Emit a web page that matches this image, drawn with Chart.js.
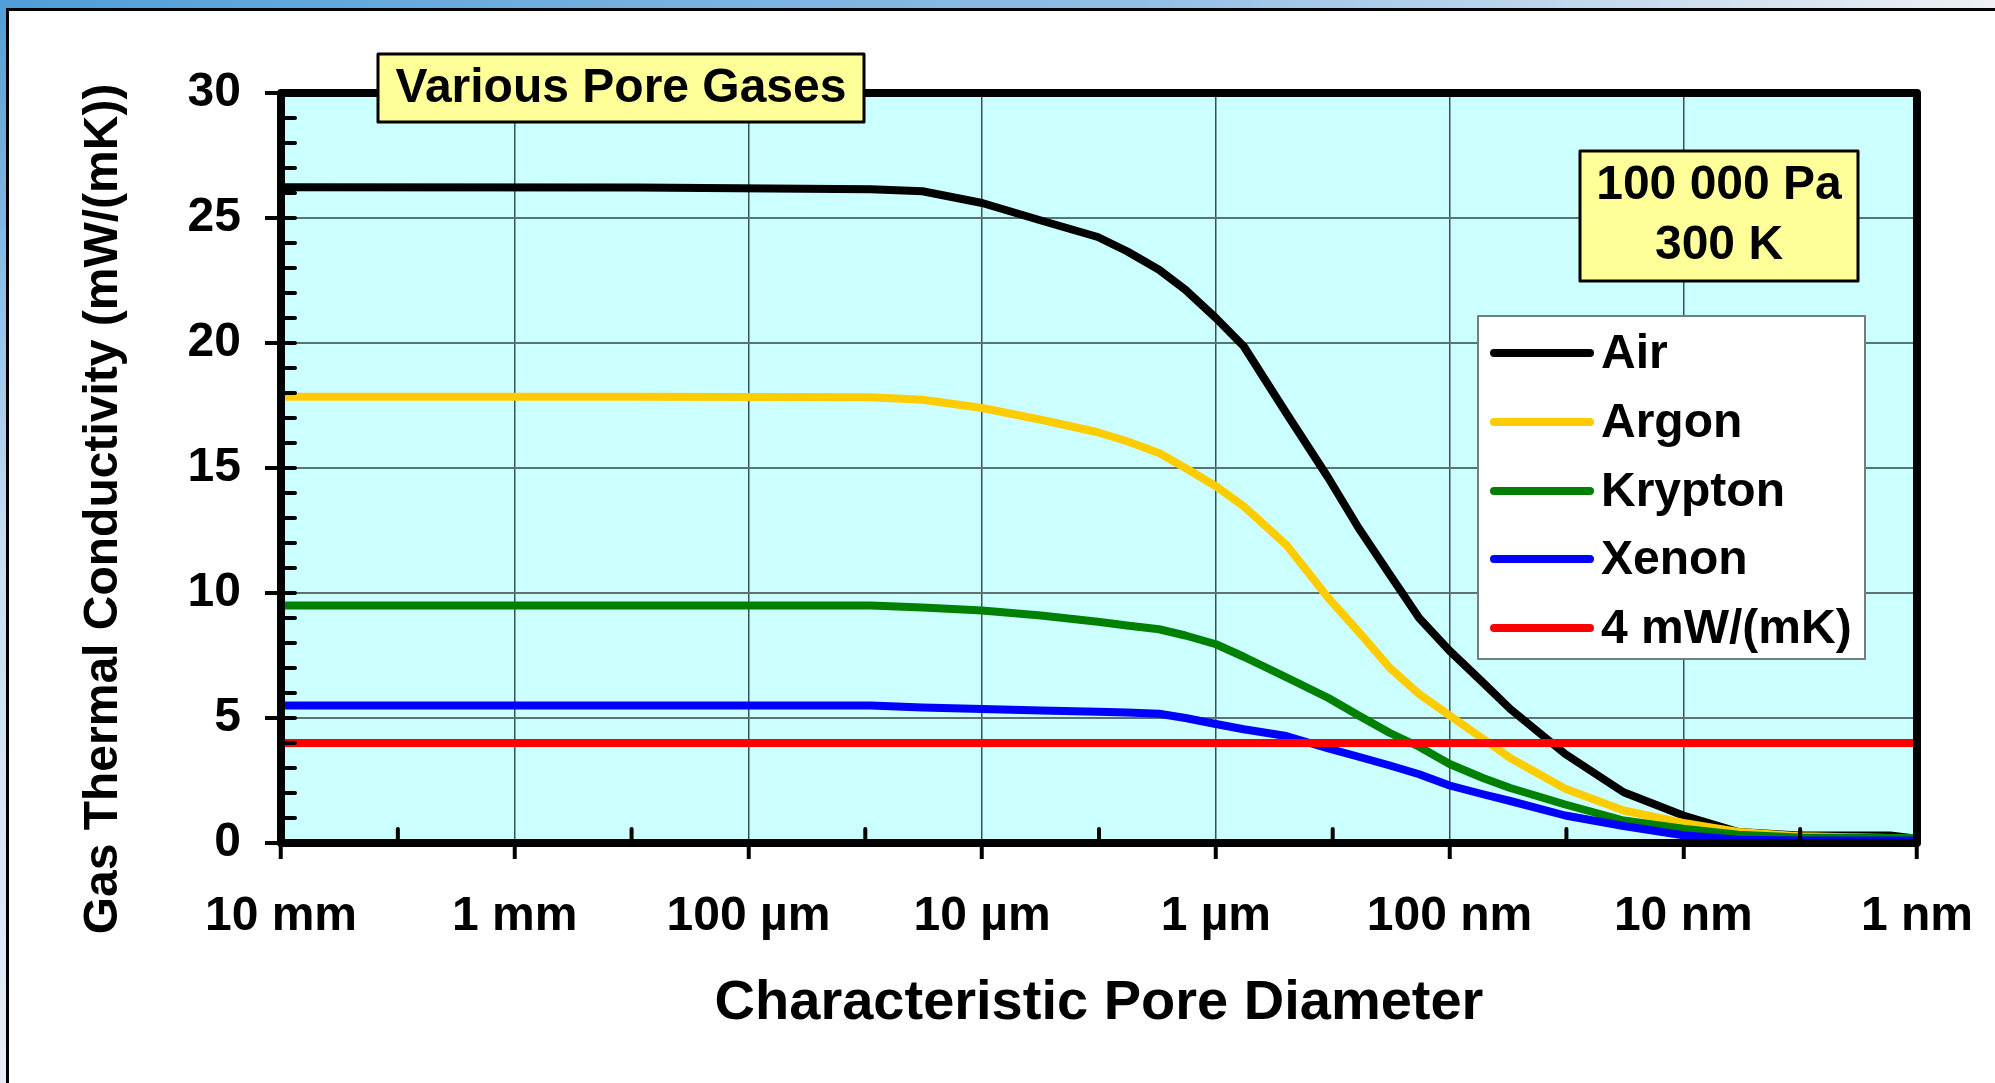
<!DOCTYPE html>
<html>
<head>
<title>Various Pore Gases</title>
<script src="https://cdn.jsdelivr.net/npm/chart.js"></script>
<style>
body { margin: 0; background: #fff; }
.wrap { position: relative; width: 1995px; height: 1083px; overflow: hidden; }
.topbar { position: absolute; left: 0; top: 0; width: 1995px; height: 8px;
  background: linear-gradient(to right, #4f9fd8, #8fbde6 55%, #eef0f5); }
.leftbar { position: absolute; left: 0; top: 0; width: 6px; height: 1083px;
  background: linear-gradient(to bottom, #4f9fd8, #c9dcf1 50%, #e6edf8); }
.panel { position: absolute; left: 6px; top: 8px; right: 0; bottom: 0;
  border-left: 3px solid #000; border-top: 3px solid #000; background: #fff; }
canvas { position: absolute; left: 0; top: 0; }
</style>
</head>
<body>
<div class="wrap">
  <div class="topbar"></div>
  <div class="leftbar"></div>
  <div class="panel"></div>
  <canvas id="myChart" width="1995" height="1083"></canvas>
</div>
<script>
// tick labels of the pore diameter axis (metres)
const sizeTicks = [1e-2, 1e-3, 1e-4, 1e-5, 1e-6, 1e-7, 1e-8, 1e-9];
const sizeLabels = ['10 mm', '1 mm', '100 µm', '10 µm', '1 µm', '100 nm', '10 nm', '1 nm'];

// pore diameters (m) where the curves were read
const diameters = [1e-2, 3e-4, 3e-5, 1.8e-5, 1e-5, 5.6e-6, 3.2e-6, 2.4e-6, 1.75e-6, 1.35e-6,
  1e-6, 7.6e-7, 5e-7, 3.3e-7, 2.45e-7, 1.8e-7, 1.35e-7, 1e-7, 7.2e-8, 5.5e-8,
  3.2e-8, 1.8e-8, 1e-8, 5.8e-9, 3.2e-9, 1.3e-9, 1e-9];

// gas thermal conductivity, mW/(mK)
const air = [26.23, 26.22, 26.15, 26.07, 25.6, 24.9, 24.24, 23.67, 22.93, 22.13,
  21.0, 19.87, 17.2, 14.6, 12.6, 10.73, 9.0, 7.69, 6.42, 5.36,
  3.56, 2.03, 1.1, 0.44, 0.3, 0.3, 0.17];
const argon = [17.85, 17.85, 17.83, 17.73, 17.4, 16.93, 16.43, 16.07, 15.6, 15.0,
  14.27, 13.47, 11.93, 9.8, 8.45, 7.0, 5.96, 5.1, 4.17, 3.4,
  2.17, 1.3, 0.8, 0.44, 0.27, 0.2, 0.17];
const krypton = [9.5, 9.5, 9.5, 9.42, 9.3, 9.1, 8.85, 8.7, 8.55, 8.3,
  7.95, 7.45, 6.63, 5.8, 5.1, 4.4, 3.85, 3.16, 2.6, 2.2,
  1.54, 0.9, 0.57, 0.33, 0.22, 0.2, 0.2];
const xenon = [5.5, 5.5, 5.5, 5.42, 5.36, 5.3, 5.25, 5.22, 5.17, 5.0,
  4.76, 4.55, 4.28, 3.78, 3.45, 3.1, 2.75, 2.3, 1.95, 1.68,
  1.1, 0.68, 0.31, 0.13, 0.1, 0.1, 0.1];

// reference level
const limitDiameters = [1e-2, 1e-9];
const limit = [4, 4];

const FONT = 'Liberation Sans, Arial, sans-serif';

function pts(xs, ys) {
  return xs.map((d, i) => ({ x: d, y: ys[i] }));
}

function sizeLabel(v) {
  const i = sizeTicks.findIndex(t => Math.abs(Math.log10(t) - Math.log10(v)) < 0.01);
  return i >= 0 ? sizeLabels[i] : '';
}

// background, frame, minor ticks, boxes, legend, y title
const decor = {
  id: 'decor',
  beforeDraw(chart) {
    const { ctx, chartArea: a } = chart;
    ctx.save();
    ctx.fillStyle = '#CCFFFF';
    ctx.fillRect(a.left, a.top, a.right - a.left, a.bottom - a.top);
    ctx.restore();
  },
  afterDraw(chart) {
    const { ctx, chartArea: a, scales: { x, y } } = chart;
    ctx.save();

    // plot frame
    ctx.strokeStyle = '#000';
    ctx.lineWidth = 8;
    ctx.lineJoin = 'round';
    ctx.strokeRect(a.left, a.top, a.right - a.left, a.bottom - a.top);

    // minor ticks, pointing inside
    ctx.lineWidth = 4;
    ctx.lineCap = 'round';
    for (let k = 0; k < 7; k++) {
      const px = x.getPixelForValue(Math.pow(10, -2.5 - k));
      ctx.beginPath();
      ctx.moveTo(px, a.bottom);
      ctx.lineTo(px, a.bottom - 14);
      ctx.stroke();
    }
    for (let v = 1; v < 30; v++) {
      const py = y.getPixelForValue(v);
      ctx.beginPath();
      ctx.moveTo(a.left, py);
      ctx.lineTo(a.left + 14, py);
      ctx.stroke();
    }

    // text boxes
    ctx.font = 'bold 48px ' + FONT;
    ctx.textAlign = 'center';
    ctx.textBaseline = 'middle';
    ctx.lineWidth = 3;
    ctx.fillStyle = '#FFFF99';
    ctx.fillRect(378, 54, 486, 68);
    ctx.strokeRect(378, 54, 486, 68);
    ctx.fillStyle = '#000';
    ctx.fillText('Various Pore Gases', 621, 89);

    ctx.fillStyle = '#FFFF99';
    ctx.fillRect(1580, 151, 278, 130);
    ctx.strokeRect(1580, 151, 278, 130);
    ctx.fillStyle = '#000';
    ctx.fillText('100 000 Pa', 1719, 186);
    ctx.fillText('300 K', 1719, 246);

    // legend
    ctx.fillStyle = '#fff';
    ctx.fillRect(1478, 316, 387, 343);
    ctx.strokeStyle = '#6f7f7f';
    ctx.lineWidth = 2;
    ctx.strokeRect(1478, 316, 387, 343);
    const rows = [353, 422, 491, 559, 628];
    ctx.textAlign = 'left';
    chart.data.datasets.forEach((ds, i) => {
      ctx.strokeStyle = ds.borderColor;
      ctx.lineWidth = 8;
      ctx.beginPath();
      ctx.moveTo(1494, rows[i]);
      ctx.lineTo(1590, rows[i]);
      ctx.stroke();
      ctx.fillStyle = '#000';
      ctx.fillText(ds.label, 1601, rows[i] + 2);
    });

    // y axis title
    ctx.translate(104, 509);
    ctx.rotate(-Math.PI / 2);
    ctx.textAlign = 'center';
    ctx.fillText('Gas Thermal Conductivity (mW/(mK))', 0, 0);
    ctx.restore();
  }
};

const lineStyle = { borderWidth: 8, pointRadius: 0, tension: 0, fill: false,
  borderCapStyle: 'round', borderJoinStyle: 'round' };

const ctx = document.getElementById('myChart').getContext('2d');
const gasChart = new Chart(ctx, {
  type: 'line',
  data: {
    datasets: [
      { label: 'Air', data: pts(diameters, air), borderColor: '#000000', order: 5, ...lineStyle },
      { label: 'Argon', data: pts(diameters, argon), borderColor: '#FFCC00', order: 4, ...lineStyle },
      { label: 'Krypton', data: pts(diameters, krypton), borderColor: '#008000', order: 3, ...lineStyle },
      { label: 'Xenon', data: pts(diameters, xenon), borderColor: '#0000FF', order: 2, ...lineStyle },
      { label: '4 mW/(mK)', data: pts(limitDiameters, limit), borderColor: '#FF0000', order: 1, ...lineStyle }
    ]
  },
  options: {
    responsive: false,
    animation: false,
    layout: { padding: { left: 0, right: 78, top: 93, bottom: 0 } },
    plugins: { legend: { display: false }, tooltip: { enabled: false } },
    scales: {
      x: {
        type: 'logarithmic',
        reverse: true,
        min: 1e-9,
        max: 1e-2,
        afterBuildTicks: s => { s.ticks = sizeTicks.map(v => ({ value: v })); },
        afterFit: s => { s.height = 240; s.paddingLeft = 0; s.paddingRight = 0; },
        ticks: {
          callback: v => sizeLabel(v),
          autoSkip: false, maxRotation: 0, padding: 29, color: '#000',
          font: { family: FONT, size: 48, weight: 'bold' }
        },
        grid: { color: '#3a5252', lineWidth: 1.5, tickLength: 16, tickColor: '#000', tickWidth: 4 },
        border: { display: false },
        title: {
          display: true, text: 'Characteristic Pore Diameter', color: '#000',
          font: { family: FONT, size: 56, weight: 'bold', lineHeight: 1 },
          padding: { top: 0, bottom: 51 }
        }
      },
      y: {
        min: 0,
        max: 30,
        afterFit: s => { s.width = 281; },
        ticks: {
          stepSize: 5, padding: 24, color: '#000',
          font: { family: FONT, size: 48, weight: 'bold' }
        },
        grid: { color: '#5a7373', lineWidth: 2, tickLength: 16, tickColor: '#000', tickWidth: 4 },
        border: { display: false }
      }
    }
  },
  plugins: [decor]
});
</script>
</body>
</html>
